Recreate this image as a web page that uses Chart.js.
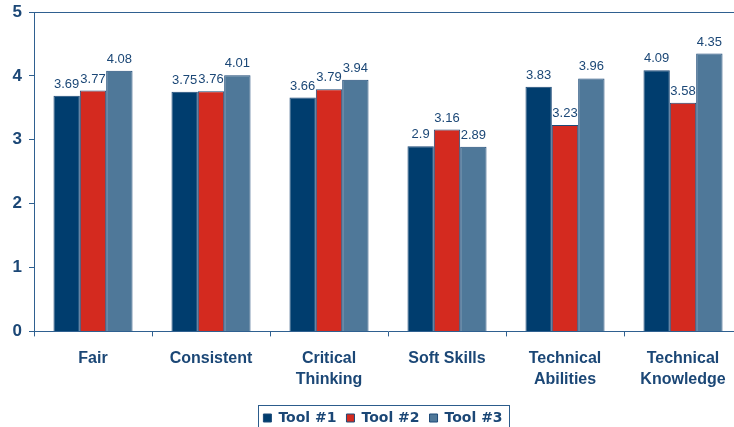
<!DOCTYPE html>
<html>
<head>
<meta charset="utf-8">
<script src="https://cdn.jsdelivr.net/npm/chart.js@4.4.1/dist/chart.umd.min.js"></script>
<style>
    html, body { margin: 0; padding: 0; background: #ffffff; }
    #clip { width: 734px; height: 427px; overflow: hidden; position: relative; }
    #wrap { width: 760px; height: 436px; position: absolute; left: 0; top: 0; }
</style>
</head>
<body>
<div id="clip"><div id="wrap"><canvas id="chart"></canvas></div></div>
<script>
const categories = [['Fair'], ['Consistent'], ['Critical', 'Thinking'], ['Soft Skills'], ['Technical', 'Abilities'], ['Technical', 'Knowledge']];
const seriesNames = ['Tool #1', 'Tool #2', 'Tool #3'];
const tool1 = [3.69, 3.75, 3.66, 2.9, 3.83, 4.09];
const tool2 = [3.77, 3.76, 3.79, 3.16, 3.23, 3.58];
const tool3 = [4.08, 4.01, 3.94, 2.89, 3.96, 4.35];
const yTicks = [0, 1, 2, 3, 4, 5];

const navyText = '#1b4776';
const axisColor = '#2f6090';
const fills = ['#003d6e', '#d42a1f', '#4f7899'];

const valueLabels = {
    id: 'valueLabels',
    afterDatasetsDraw(chart) {
        const ctx = chart.ctx;
        ctx.save();
        ctx.font = '13px "Liberation Sans", Arial, sans-serif';
        ctx.fillStyle = navyText;
        ctx.textAlign = 'center';
        ctx.textBaseline = 'alphabetic';
        chart.data.datasets.forEach((ds, i) => {
            chart.getDatasetMeta(i).data.forEach((bar, j) => {
                ctx.fillText(String(ds.data[j]), bar.x, bar.y - 8);
            });
        });
        ctx.restore();
    }
};

// legend sits a little right of the canvas centre in the original
const legendShift = {
    id: 'legendShift',
    afterLayout(chart) {
        const lg = chart.legend;
        const dx = 6, dy = -1;
        lg.left += dx;
        lg.right += dx;
        lg.top += dy;
        lg.bottom += dy;
        (lg.legendHitBoxes || []).forEach(b => { b.left += dx; b.top += dy; });
    }
};

const frameAndLegendBox = {
    id: 'frameAndLegendBox',
    afterDraw(chart) {
        const ctx = chart.ctx;
        const a = chart.chartArea;
        ctx.save();
        ctx.strokeStyle = axisColor;
        ctx.lineWidth = 1;
        ctx.beginPath();
        ctx.moveTo(a.left, a.top + 0.5);
        ctx.lineTo(a.right, a.top + 0.5);
        ctx.stroke();

        const boxes = chart.legend.legendHitBoxes;
        if (boxes && boxes.length) {
            const left = boxes[0].left - 5;
            const last = boxes[boxes.length - 1];
            const right = last.left + last.width + 7;
            const cy = boxes[0].top + boxes[0].height / 2;
            ctx.strokeStyle = '#2c5c8c';
            ctx.strokeRect(Math.round(left) + 0.5, Math.round(cy - 12.5) + 0.5, Math.round(right - left), 26);
        }
        ctx.restore();
    }
};

new Chart(document.getElementById('chart'), {
    type: 'bar',
    data: {
        labels: categories,
        datasets: [tool1, tool2, tool3].map((d, i) => ({
            label: seriesNames[i],
            data: d,
            backgroundColor: fills[i],
            borderColor: '#1d4a78',
            borderWidth: 1,
            categoryPercentage: 0.67,
            barPercentage: 1.0
        }))
    },
    options: {
        responsive: true,
        maintainAspectRatio: false,
        animation: false,
        layout: { padding: { left: 12, right: 18, top: 12, bottom: 0 } },
        plugins: {
            tooltip: { enabled: false },
            legend: {
                position: 'bottom',
                labels: {
                    boxWidth: 8,
                    boxHeight: 8,
                    padding: 10,
                    color: navyText,
                    font: { family: '"DejaVu Sans", sans-serif', size: 14, weight: 'bold' }
                }
            }
        },
        scales: {
            x: {
                grid: { offset: true, drawOnChartArea: false, drawTicks: true, tickLength: 5, color: axisColor },
                border: { color: axisColor },
                ticks: {
                    color: navyText,
                    padding: 12,
                    maxRotation: 0,
                    font: { family: '"Liberation Sans", Arial, sans-serif', size: 16, weight: 'bold', lineHeight: 1.3 }
                }
            },
            y: {
                min: 0,
                max: 5,
                afterFit(scale) {
                    scale.width = 22;
                    scale.paddingTop = 0;
                    scale.paddingBottom = 0;
                },
                afterBuildTicks(scale) { scale.ticks = yTicks.map(v => ({ value: v })); },
                grid: { drawOnChartArea: false, drawTicks: true, tickLength: 5, color: axisColor },
                border: { color: axisColor },
                ticks: {
                    color: navyText,
                    padding: 7,
                    font: { family: '"Liberation Sans", Arial, sans-serif', size: 17, weight: 'bold', lineHeight: 1.0 }
                }
            }
        }
    },
    plugins: [valueLabels, legendShift, frameAndLegendBox]
});
</script>
</body>
</html>
